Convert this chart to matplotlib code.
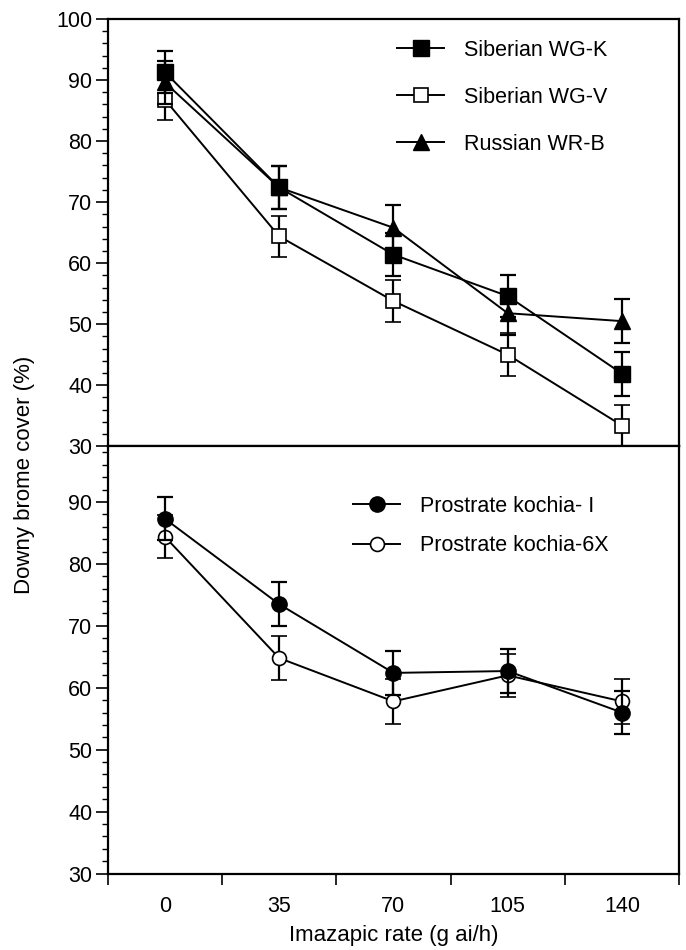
import numpy as np
import matplotlib.pyplot as plt

plt.rcParams['font.family'] = ['Liberation Sans', 'DejaVu Sans']

# =========================
# DATA
# =========================

rates = [0, 35, 70, 105, 140]
rate_labels = ["0", "35", "70", "105", "140"]

wgk = [91.3, 72.4, 61.4, 54.6, 41.9]
wgk_err = [3.5, 3.5, 3.5, 3.5, 3.6]

wgv = [86.8, 64.4, 53.8, 45.0, 33.4]
wgv_err = [3.4, 3.4, 3.5, 3.5, 3.4]

wrb = [89.6, 72.4, 65.8, 51.8, 50.5]
wrb_err = [3.6, 3.5, 3.7, 3.5, 3.6]

koch_i = [87.3, 73.5, 62.4, 62.7, 56.0]
koch_i_err = [3.5, 3.5, 3.5, 3.5, 3.5]

koch_6x = [84.4, 64.8, 57.8, 62.0, 57.8]
koch_6x_err = [3.5, 3.5, 3.6, 3.5, 3.6]

# =========================
# FIGURE
# =========================

fig, (ax1, ax2) = plt.subplots(
    2, 1,
    figsize=(6.86, 9.5),
    dpi=100,
    sharex=True
)

fig.subplots_adjust(
    left=0.157,
    right=0.99,
    top=0.98,
    bottom=0.0805,
    hspace=0
)

err_style = dict(
    color="black",
    ecolor="black",
    elinewidth=1.6,
    capsize=5.5,
    capthick=1.6,
    linewidth=1.4
)

# TOP PANEL
c_wgv = ax1.errorbar(rates, wgv, yerr=wgv_err, marker="s", markersize=10,
                     markerfacecolor="white", markeredgecolor="black",
                     markeredgewidth=1.2, zorder=3, **err_style)

c_wrb = ax1.errorbar(rates, wrb, yerr=wrb_err, marker="^", markersize=11,
                     markerfacecolor="black", zorder=4, **err_style)

c_wgk = ax1.errorbar(rates, wgk, yerr=wgk_err, marker="s", markersize=11,
                     markerfacecolor="black", zorder=5, **err_style)

ax1.legend(
    [c_wgk[0], c_wgv[0], c_wrb[0]],
    ["Siberian WG-K", "Siberian WG-V", "Russian WR-B"],
    loc="upper left",
    bbox_to_anchor=(0.506, 0.951),
    borderaxespad=0,
    borderpad=0,
    frameon=False,
    fontsize=15.5,
    labelspacing=1.2,
    handlelength=2.2,
    handletextpad=0.9
)

# BOTTOM PANEL
c_6x = ax2.errorbar(rates, koch_6x, yerr=koch_6x_err, marker="o", markersize=10,
                    markerfacecolor="white", markeredgecolor="black",
                    markeredgewidth=1.2, zorder=3, **err_style)

c_i = ax2.errorbar(rates, koch_i, yerr=koch_i_err, marker="o", markersize=11,
                   markerfacecolor="black", zorder=4, **err_style)

ax2.legend(
    [c_i[0], c_6x[0]],
    ["Prostrate kochia- I", "Prostrate kochia-6X"],
    loc="upper left",
    bbox_to_anchor=(0.429, 0.884),
    borderaxespad=0,
    borderpad=0,
    frameon=False,
    fontsize=15.5,
    labelspacing=0.86,
    handlelength=2.2,
    handletextpad=0.9
)

# AXES STYLE
for ax in (ax1, ax2):
    for side in ax.spines.values():
        side.set_linewidth(1.6)
    ax.set_yticks(np.arange(30, 100, 2), minor=True)
    ax.tick_params(axis="y", which="major", direction="out",
                   length=9, width=1.2, labelsize=15.5, pad=2)
    ax.tick_params(axis="y", which="minor", direction="out",
                   length=4, width=1.0)

ax1.set_yticks(np.arange(30, 101, 10))
ax1.set_ylim(30, 100)
ax2.set_yticks(np.arange(30, 91, 10))
ax2.set_ylim(30, 99)

ax2.set_xlim(-17.5, 157.5)
ax2.set_xticks(rates)
ax2.set_xticklabels(rate_labels)
ax2.set_xticks(np.arange(-17.5, 160, 35), minor=True)
ax2.tick_params(axis="x", which="major", length=0, labelsize=15.5, pad=16)
ax2.tick_params(axis="x", which="minor", direction="out", length=8, width=1.2)
ax1.tick_params(axis="x", which="both", length=0, labelbottom=False)

ax2.set_xlabel("Imazapic rate (g ai/h)", fontsize=16, labelpad=6)

fig.text(
    0.036, 0.5,
    "Downy brome cover (%)",
    rotation=90,
    va="center",
    ha="center",
    fontsize=16
)

plt.savefig("out.png", dpi=100)
